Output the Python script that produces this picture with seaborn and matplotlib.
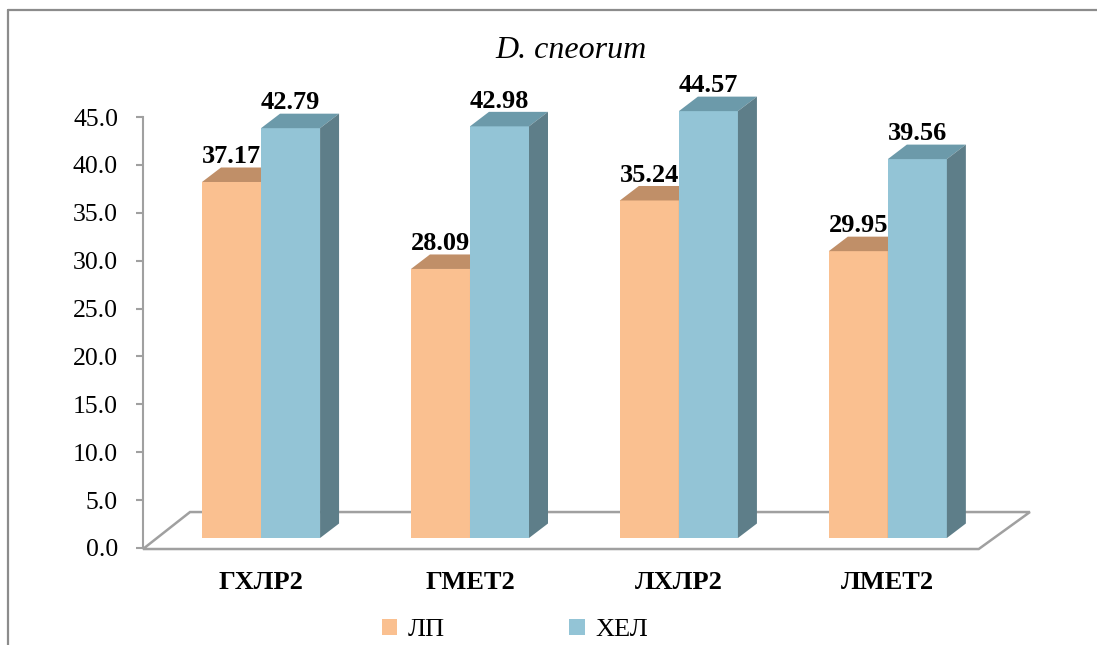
import matplotlib
matplotlib.use('Agg')
import matplotlib.pyplot as plt
from matplotlib.patches import Polygon, Patch
from matplotlib.lines import Line2D
import seaborn as sns
import pandas as pd

categories = ['ГХЛР2', 'ГМЕТ2', 'ЛХЛР2', 'ЛМЕТ2']
series = ['ЛП', 'ХЕЛ']
lp_values = [37.17, 28.09, 35.24, 29.95]
hel_values = [42.79, 42.98, 44.57, 39.56]
y_ticks = [0, 5, 10, 15, 20, 25, 30, 35, 40, 45]

front_colors = {'ЛП': '#FAC090', 'ХЕЛ': '#93C4D6'}
top_colors = {'ЛП': '#C08F68', 'ХЕЛ': '#6C9AAA'}
side_colors = {'ЛП': '#B07F58', 'ХЕЛ': '#5E7E89'}

df = pd.DataFrame({
    'category': categories * 2,
    'value': lp_values + hel_values,
    'series': [series[0]] * 4 + [series[1]] * 4,
})

sns.set_style('white')
plt.rcParams['font.family'] = ['Liberation Serif', 'DejaVu Serif']
plt.rcParams['text.color'] = 'black'
plt.rcParams['xtick.color'] = 'black'
plt.rcParams['ytick.color'] = 'black'

W, H = 1097, 645
fig = plt.figure(figsize=(W / 100, H / 100), dpi=100)


def rect(x0, y0, x1, y1):
    # pixel box (top-left origin) -> figure fraction
    return [x0 / W, 1 - y1 / H, (x1 - x0) / W, (y1 - y0) / H]


# outer frame (cut off at right / bottom)
grey = '#8C8C8C'
fig.add_artist(Line2D([8 / W, 8 / W], [0, 1 - 10 / H], color=grey, lw=1.6))
fig.add_artist(Line2D([8 / W, 1], [1 - 10 / H, 1 - 10 / H], color=grey, lw=1.6))

# value axis (front-left edge of the 3D floor)
ax_y = fig.add_axes(rect(143, 117, 1055, 548))
ax_y.set_facecolor('none')
ax_y.set_ylim(0, 45)
ax_y.set_yticks(y_ticks)
ax_y.set_yticklabels([f'{t:.1f}' for t in y_ticks], fontsize=18.5)
ax_y.set_xticks([])
for s in ['top', 'right', 'bottom']:
    ax_y.spines[s].set_visible(False)
ax_y.spines['left'].set_color('#A0A0A0')
ax_y.spines['left'].set_linewidth(1.5)
ax_y.tick_params(axis='y', direction='out', length=5, width=1.5, color='#A0A0A0',
                 labelcolor='black', pad=13, left=True)

# bars axis (bars stand a bit behind the front edge)
ax = fig.add_axes(rect(143, 107, 1055, 538))
ax.set_facecolor('none')
sns.barplot(data=df, x='category', y='value', hue='series', palette=front_colors,
            width=0.565, saturation=1, legend=False, ax=ax, linewidth=0)
ax.set_xlim(-0.565, 3.8)
ax.set_ylim(0, 45)
ax.set_yticks([])
ax.set_xlabel('')
ax.set_ylabel('')
sns.despine(ax=ax, left=True, bottom=True)
for lab in ax.get_xticklabels():
    lab.set_fontweight('bold')
    lab.set_fontsize(19)
ax.tick_params(axis='x', length=0, pad=24, labelcolor='black')

# 3D depth offsets in data units
dx = 19 / 209
dy = 14.5 / 9.58

# floor
floor = Polygon([(-0.565, -1.15), (3.435, -1.15), (3.68, 2.71), (-0.34, 2.71)],
                closed=True, facecolor='white', edgecolor='#A0A0A0', lw=1.8,
                zorder=0.5, clip_on=False)
ax.add_patch(floor)

for i, (name, cont) in enumerate(zip(series, ax.containers)):
    z = 2 + i
    for bar in cont:
        x0, w, h = bar.get_x(), bar.get_width(), bar.get_height()
        bar.set_zorder(z)
        top = Polygon([(x0, h), (x0 + w, h), (x0 + w + dx, h + dy), (x0 + dx, h + dy)],
                      closed=True, facecolor=top_colors[name], lw=0, zorder=z, clip_on=False)
        side = Polygon([(x0 + w, 0), (x0 + w + dx, dy), (x0 + w + dx, h + dy), (x0 + w, h)],
                       closed=True, facecolor=side_colors[name], lw=0, zorder=z, clip_on=False)
        ax.add_patch(top)
        ax.add_patch(side)
        ax.text(x0 + w / 2, h + dy + 0.45, f'{h:.2f}', ha='center', va='baseline',
                fontsize=19, fontweight='bold', zorder=5, clip_on=False)

fig.text(571 / W, 1 - 50 / H, 'D. cneorum', ha='center', va='center',
         fontsize=23, style='italic')

handles = [Patch(facecolor=front_colors[s], edgecolor='none') for s in series]
fig.legend(handles, series, loc='center', bbox_to_anchor=(515 / W, 1 - 630 / H),
           ncol=2, frameon=False, fontsize=19, handlelength=0.6, handleheight=0.6,
           handletextpad=0.4, columnspacing=4.7)

fig.savefig('out.png', dpi=100)
